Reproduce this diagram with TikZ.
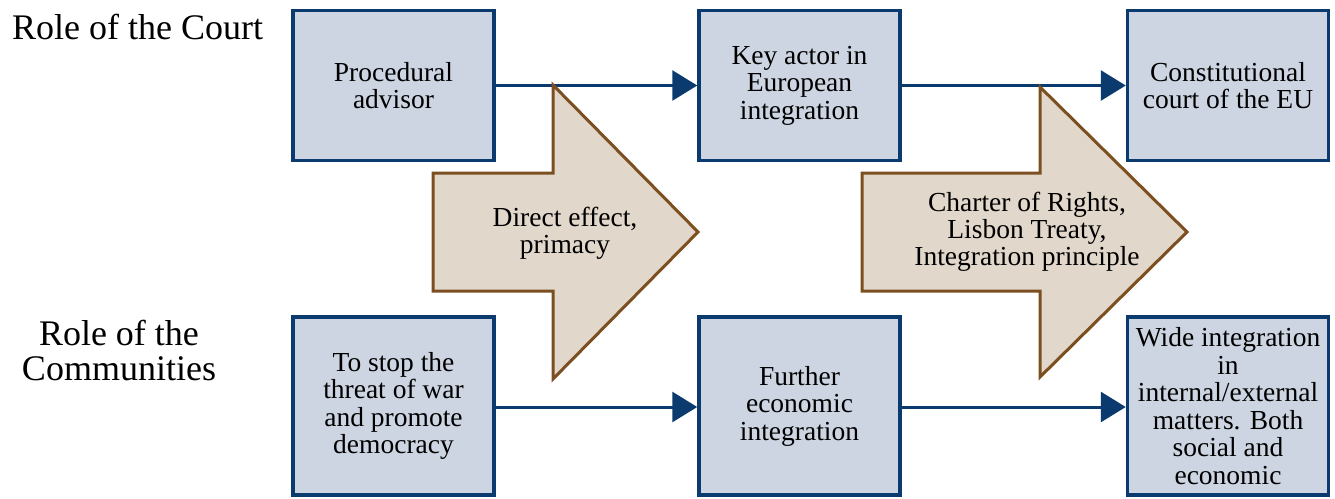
\documentclass[tikz,border=0pt]{standalone}
\usepackage{fontspec}
\setmainfont{Liberation Serif}
\usetikzlibrary{arrows.meta}
\definecolor{boxfill}{HTML}{CDD5E2}
\definecolor{boxline}{HTML}{0B3A6E}
\definecolor{shiftfill}{HTML}{E1D7CB}
\definecolor{shiftline}{HTML}{7B4F1F}
\tikzset{
  stage/.style={draw=boxline, fill=boxfill, line width=3.5pt, align=center,
    minimum width=201pt, inner sep=2pt, font=\fontsize{27.5}{27.5}\selectfont},
  topstage/.style={stage, minimum height=150pt},
  lowstage/.style={stage, minimum height=178pt},
  link/.style={draw=boxline, line width=3pt, -{Triangle[length=25pt,width=30pt]}},
  shiftarrow/.style={draw=shiftline, fill=shiftfill, line width=3pt, line join=miter},
  shifttext/.style={align=center, inner sep=0pt, font=\fontsize{27.5}{27}\selectfont},
  rolelabel/.style={align=center, inner sep=0pt, font=\fontsize{36}{35}\selectfont},
}
\begin{document}
\begin{tikzpicture}[x=1pt, y=-1pt]
  \useasboundingbox (0,0) rectangle (1335,498);

  \node[rolelabel, anchor=west] (court) at (12,27) {Role of the Court};
  \node[rolelabel] (communities) at (119,350) {Role of the\\Communities};

  % role of the court
  \node[topstage] (advisor) at (393.5,85.5) {Procedural\\advisor};
  \node[topstage] (keyactor) at (799.5,85.5) {Key actor in\\European\\integration};
  \node[topstage] (constcourt) at (1228,85.5) {Constitutional\\court of the EU};

  % role of the communities
  \node[lowstage] (stopwar) at (393.5,406) {To stop the\\threat of war\\and promote\\democracy};
  \node[lowstage] (economic) at (799.5,406) {Further\\economic\\integration};
  \node[lowstage] (wide) at (1228,406) {Wide integration\\in\\internal/external\\matters. Both\\social and\\economic};

  \draw[link] (advisor) to (keyactor);
  \draw[link] (keyactor) to (constcourt);
  \draw[link] (stopwar.east |- 0,407) to (economic.west |- 0,407);
  \draw[link] (economic.east |- 0,407) to (wide.west |- 0,407);

  % shifts between the stages
  \draw[shiftarrow] (433,173) -- (553,173) -- (553,85) -- (698,232) -- (553,379)
    -- (553,291) -- (433,291) -- cycle;
  \node[shifttext] (effect) at (565,233) {Direct effect,\\primacy};

  \draw[shiftarrow] (862,173) -- (1040,173) -- (1040,87) -- (1187,232) -- (1040,377)
    -- (1040,291) -- (862,291) -- cycle;
  \node[shifttext] (charter) at (1027,232) {Charter of Rights,\\Lisbon Treaty,\\Integration principle};
\end{tikzpicture}
\end{document}
